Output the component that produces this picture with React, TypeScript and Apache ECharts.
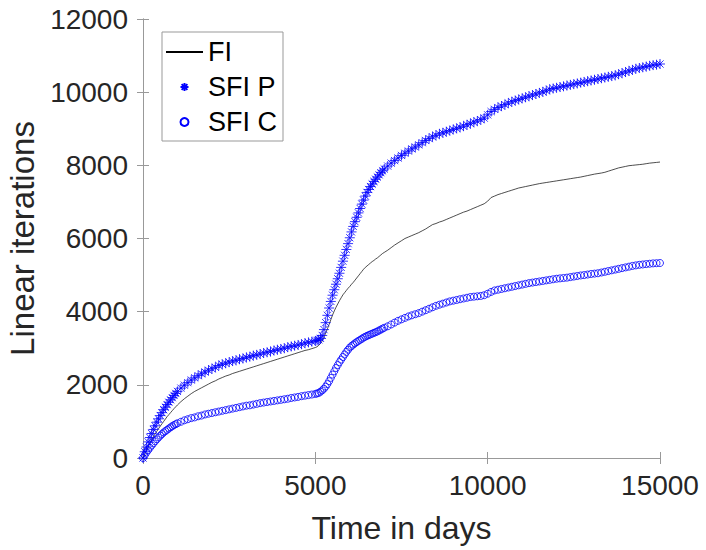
import React, { useEffect, useRef } from "react";
import * as echarts from "echarts";

const xTicks = [0, 5000, 10000, 15000];
const yTicks = [0, 2000, 4000, 6000, 8000, 10000, 12000];

// time samples (days): finer where the curves change fast
const days = [
  0, 50, 100, 150, 200, 250, 300, 350, 400, 450, 500, 550, 600, 650, 700, 750, 800, 850, 900, 950, 1000,
  1100, 1200, 1300, 1400, 1500, 1600, 1700, 1800, 1900,
  2000, 2100, 2200, 2300, 2400, 2500, 2600, 2700, 2800, 2900,
  3000, 3100, 3200, 3300, 3400, 3500, 3600, 3700, 3800, 3900,
  4000, 4100, 4200, 4300, 4400, 4500, 4600, 4700, 4800, 4900,
  5000, 5050, 5100, 5150, 5200, 5250, 5300, 5350, 5400, 5450,
  5500, 5550, 5600, 5650, 5700, 5750, 5800, 5850, 5900, 5950,
  6000, 6050, 6100, 6150, 6200, 6250, 6300, 6350, 6400, 6450,
  6500, 6550, 6600, 6650, 6700, 6750, 6800, 6850, 6900, 6950, 7000,
  7100, 7200, 7300, 7400, 7500, 7600, 7700, 7800, 7900,
  8000, 8100, 8200, 8300, 8400, 8500, 8600, 8700, 8800, 8900,
  9000, 9100, 9200, 9300, 9400, 9500, 9600, 9700, 9800, 9900,
  10000, 10100, 10200, 10300, 10400, 10500, 10600, 10700, 10800, 10900,
  11000, 11100, 11200, 11300, 11400, 11500, 11600, 11700, 11800, 11900,
  12000, 12100, 12200, 12300, 12400, 12500, 12600, 12700, 12800, 12900,
  13000, 13100, 13200, 13300, 13400, 13500, 13600, 13700, 13800, 13900,
  14000, 14100, 14200, 14300, 14400, 14500, 14600, 14700, 14800, 14900,
  15000,
];

const fi = [
  0, 100, 200, 300, 400, 490, 580, 655, 730, 800, 870, 935, 1000, 1065, 1130, 1185, 1240, 1295, 1350, 1400, 1450,
  1540, 1620, 1690, 1760, 1820, 1870, 1920, 1970, 2020,
  2070, 2110, 2160, 2200, 2240, 2270, 2310, 2340, 2370, 2400,
  2430, 2460, 2490, 2520, 2550, 2580, 2610, 2640, 2670, 2700,
  2730, 2760, 2790, 2820, 2850, 2880, 2910, 2940, 2960, 2990,
  3020, 3040, 3080, 3130, 3200, 3300, 3420, 3530, 3650, 3780,
  3910, 4020, 4120, 4210, 4300, 4380, 4460, 4520, 4580, 4640,
  4690, 4750, 4800, 4860, 4920, 4980, 5040, 5100, 5160, 5210,
  5250, 5290, 5330, 5370, 5400, 5440, 5470, 5510, 5550, 5590, 5620,
  5680, 5750, 5820, 5880, 5940, 6000, 6040, 6080, 6120,
  6160, 6210, 6260, 6320, 6380, 6410, 6450, 6480, 6520, 6560,
  6600, 6640, 6680, 6720, 6750, 6790, 6830, 6870, 6910, 6950,
  7020, 7120, 7160, 7200, 7230, 7260, 7290, 7320, 7350, 7380,
  7400, 7420, 7440, 7460, 7480, 7500, 7515, 7530, 7545, 7560,
  7575, 7590, 7605, 7620, 7635, 7650, 7665, 7680, 7700, 7720,
  7740, 7760, 7775, 7790, 7810, 7840, 7870, 7900, 7930, 7950,
  7970, 7990, 8000, 8010, 8020, 8030, 8045, 8060, 8070, 8080,
  8090,
];

const sfiP = [
  0, 170, 300, 440, 560, 670, 780, 880, 980, 1070, 1160, 1240, 1320, 1390, 1460, 1525, 1590, 1650, 1710, 1765, 1820,
  1910, 1990, 2060, 2130, 2190, 2250, 2300, 2350, 2400,
  2440, 2480, 2530, 2560, 2590, 2620, 2650, 2670, 2700, 2720,
  2750, 2770, 2800, 2820, 2840, 2870, 2890, 2910, 2940, 2960,
  2980, 3000, 3030, 3050, 3070, 3090, 3110, 3140, 3160, 3180,
  3200, 3215, 3230, 3270, 3350, 3510, 3700, 3900, 4100, 4280,
  4450, 4600, 4750, 4900, 5050, 5210, 5380, 5540, 5700, 5860,
  6020, 6180, 6330, 6460, 6580, 6700, 6820, 6940, 7050, 7160,
  7260, 7340, 7420, 7490, 7560, 7620, 7680, 7740, 7800, 7850, 7900,
  7980, 8060, 8130, 8200, 8270, 8330, 8390, 8450, 8500,
  8560, 8620, 8680, 8730, 8780, 8820, 8860, 8890, 8920, 8950,
  8980, 9010, 9040, 9070, 9110, 9140, 9180, 9210, 9250, 9290,
  9380, 9470, 9530, 9580, 9620, 9660, 9700, 9740, 9770, 9800,
  9830, 9860, 9890, 9920, 9950, 9980, 10010, 10040, 10080, 10100,
  10120, 10140, 10160, 10180, 10200, 10220, 10240, 10260, 10280, 10300,
  10320, 10340, 10360, 10380, 10400, 10420, 10440, 10460, 10490, 10520,
  10550, 10580, 10610, 10640, 10660, 10680, 10700, 10720, 10740, 10750,
  10770,
];

const sfiC = [
  0, 80, 150, 215, 280, 340, 400, 455, 510, 560, 610, 655, 700, 735, 770, 805, 840, 870, 900, 925, 950,
  990, 1030, 1060, 1090, 1110, 1140, 1160, 1190, 1210,
  1230, 1250, 1270, 1290, 1310, 1330, 1350, 1370, 1390, 1410,
  1430, 1440, 1460, 1480, 1500, 1515, 1530, 1545, 1560, 1575,
  1590, 1605, 1620, 1640, 1655, 1670, 1690, 1705, 1720, 1735,
  1750, 1765, 1780, 1810, 1850, 1895, 1950, 2020, 2100, 2190,
  2280, 2370, 2460, 2540, 2620, 2690, 2760, 2830, 2900, 2960,
  3020, 3060, 3100, 3135, 3170, 3200, 3230, 3260, 3290, 3315,
  3340, 3360, 3380, 3400, 3420, 3440, 3460, 3485, 3510, 3535, 3560,
  3600, 3650, 3700, 3750, 3790, 3830, 3870, 3900, 3930,
  3960, 4000, 4040, 4080, 4120, 4160, 4190, 4220, 4250, 4280,
  4300, 4320, 4340, 4360, 4380, 4400, 4410, 4420, 4430, 4450,
  4490, 4540, 4580, 4600, 4620, 4640, 4660, 4680, 4700, 4720,
  4740, 4760, 4780, 4795, 4810, 4825, 4840, 4855, 4870, 4885,
  4900, 4910, 4920, 4930, 4945, 4960, 4975, 4990, 5000, 5015,
  5030, 5040, 5050, 5070, 5090, 5110, 5130, 5150, 5170, 5190,
  5210, 5230, 5250, 5265, 5280, 5290, 5300, 5310, 5320, 5325,
  5330,
];

const seriesNames = ["FI", "SFI P", "SFI C"];
const xTitle = "Time in days";
const yTitle = "Linear iterations";

const FONT = "'Liberation Sans', Arial, Helvetica, sans-serif";
const AXIS_GRAY = "#999999";
const TEXT_DARK = "#262626";
const BLUE = "#0000ff";
const STAR = "path://M0,-5L0,5M-5,0L5,0M-3.6,-3.6L3.6,3.6M-3.6,3.6L3.6,-3.6";

export default function App() {
  const ref = useRef<HTMLDivElement>(null);

  useEffect(() => {
    if (!ref.current) return;
    const chart = echarts.init(ref.current, null, { renderer: "svg" });
    const xMin = xTicks[0];
    const xMax = xTicks[xTicks.length - 1];
    const xInt = xTicks[1] - xTicks[0];
    const yMin = yTicks[0];
    const yMax = yTicks[yTicks.length - 1];
    const yInt = yTicks[1] - yTicks[0];

    const axisCommon = {
      axisLine: { show: true, lineStyle: { color: AXIS_GRAY, width: 1 } },
      axisTick: { show: true, inside: true, length: 6, lineStyle: { color: AXIS_GRAY, width: 1 } },
      splitLine: { show: false },
    };
    const plain = (v: number) => String(v);

    chart.setOption({
      animation: false,
      backgroundColor: "#ffffff",
      textStyle: { fontFamily: FONT },
      grid: { left: 143, right: 46, top: 19, bottom: 92, containLabel: false, outerBoundsMode: "none" },
      legend: {
        left: 162,
        top: 32,
        orient: "vertical",
        backgroundColor: "#ffffff",
        borderColor: AXIS_GRAY,
        borderWidth: 1,
        borderRadius: 0,
        padding: [5, 6, 4, 3],
        itemGap: 5,
        itemWidth: 37,
        itemHeight: 8,
        textStyle: { fontFamily: FONT, fontSize: 27, color: "#000000", lineHeight: 30 },
        data: [
          { name: seriesNames[0], itemStyle: { opacity: 0 } },
          { name: seriesNames[1] },
          { name: seriesNames[2] },
        ],
      },
      xAxis: [
        {
          type: "value",
          min: xMin,
          max: xMax,
          interval: xInt,
          position: "bottom",
          name: xTitle,
          nameLocation: "middle",
          nameGap: 54,
          nameTextStyle: { fontFamily: FONT, fontSize: 32, color: TEXT_DARK },
          axisLabel: { fontFamily: FONT, fontSize: 28, color: TEXT_DARK, margin: 13, formatter: plain },
          ...axisCommon,
        },
        {
          type: "value",
          min: xMin,
          max: xMax,
          interval: xInt,
          position: "top",
          axisLabel: { show: false },
          ...axisCommon,
        },
      ],
      yAxis: [
        {
          type: "value",
          min: yMin,
          max: yMax,
          interval: yInt,
          position: "left",
          name: yTitle,
          nameLocation: "middle",
          nameGap: 101,
          nameTextStyle: { fontFamily: FONT, fontSize: 33, color: TEXT_DARK },
          axisLabel: {
            fontFamily: FONT,
            fontSize: 28,
            color: TEXT_DARK,
            margin: 15,
            padding: [8, 0, 0, 0],
            formatter: plain,
          },
          ...axisCommon,
        },
        {
          type: "value",
          min: yMin,
          max: yMax,
          interval: yInt,
          position: "right",
          axisLabel: { show: false },
          ...axisCommon,
        },
      ],
      series: [
        {
          name: seriesNames[0],
          type: "line",
          xAxisIndex: 0,
          yAxisIndex: 0,
          symbol: "none",
          showSymbol: false,
          smooth: false,
          lineStyle: { color: "#000000", width: 0.7 },
          itemStyle: { color: "transparent" },
          data: days.map((d, i) => [d, fi[i]]),
          z: 2,
        },
        {
          name: seriesNames[1],
          type: "scatter",
          xAxisIndex: 0,
          yAxisIndex: 0,
          symbol: STAR,
          symbolSize: 10,
          itemStyle: { color: "transparent", borderColor: BLUE, borderWidth: 0.8, opacity: 1 },
          data: days.map((d, i) => [d, sfiP[i]]),
          z: 3,
        },
        {
          name: seriesNames[2],
          type: "scatter",
          xAxisIndex: 0,
          yAxisIndex: 0,
          symbol: "circle",
          symbolSize: 7,
          itemStyle: { color: "transparent", borderColor: BLUE, borderWidth: 0.8, opacity: 1 },
          data: days.map((d, i) => [d, sfiC[i]]),
          z: 3,
        },
      ],
    });
    return () => chart.dispose();
  }, []);

  return <div ref={ref} style={{ width: 706, height: 550, position: "absolute", left: 0, top: 0 }} />;
}
